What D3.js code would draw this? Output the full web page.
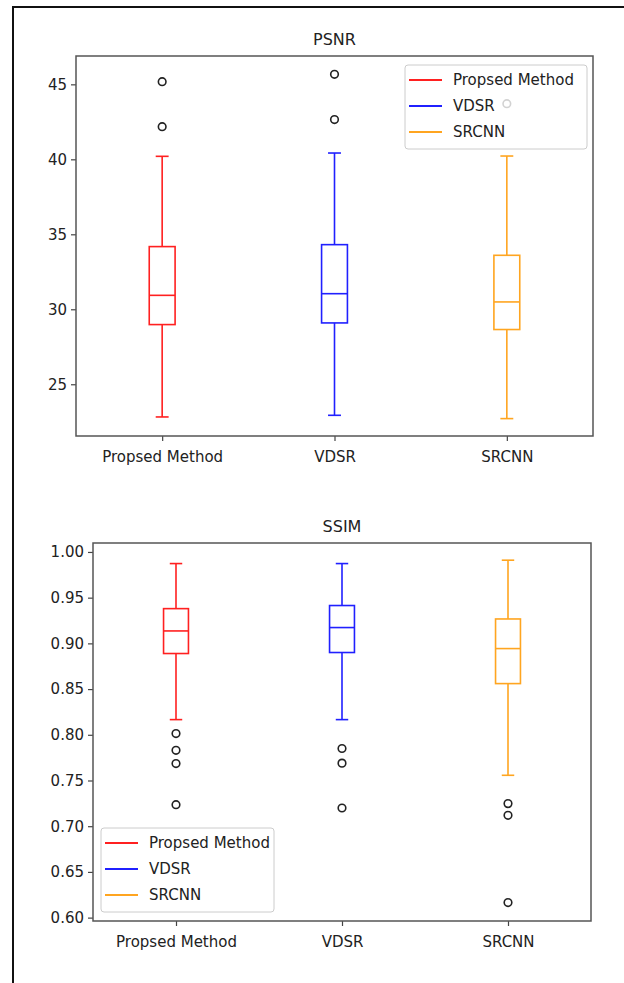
<!DOCTYPE html>
<html>
<head>
<meta charset="utf-8">
<script src="https://cdn.jsdelivr.net/npm/d3@7"></script>
<style>
  html, body { margin: 0; padding: 0; background: #fff; }
  svg { display: block; font-family: "DejaVu Sans", sans-serif; }
</style>
</head>
<body>
<svg id="chart" width="624" height="983"></svg>
<script>
// categories and colors
const methods = ["Propsed Method", "VDSR", "SRCNN"];
const methodColors = ["#ff2020", "#2020ff", "#ffa520"];

// PSNR box stats
const psnrLow    = [22.82, 22.93, 22.71];
const psnrQ1     = [28.98, 29.09, 28.65];
const psnrMedian = [30.93, 31.04, 30.49];
const psnrQ3     = [34.18, 34.31, 33.60];
const psnrHigh   = [40.20, 40.42, 40.22];
const psnrOutliers = [[45.18, 42.18], [45.67, 42.65], [43.71]];
const psnrTicks = [25, 30, 35, 40, 45];

// SSIM box stats
const ssimLow    = [0.8166, 0.8166, 0.7557];
const ssimQ1     = [0.8889, 0.8900, 0.8560];
const ssimMedian = [0.9136, 0.9173, 0.8943];
const ssimQ3     = [0.9380, 0.9414, 0.9267];
const ssimHigh   = [0.9873, 0.9873, 0.9910];
const ssimOutliers = [[0.8013, 0.7830, 0.7685, 0.7236], [0.7850, 0.7690, 0.7199], [0.7247, 0.7119, 0.6165]];
const ssimTicks = [0.60, 0.65, 0.70, 0.75, 0.80, 0.85, 0.90, 0.95, 1.00];

const svg = d3.select("#chart");

// outer frame (only left and top visible)
svg.append("path")
  .attr("d", "M13,983 L13,7 L624,7")
  .attr("fill", "none")
  .attr("stroke", "#111")
  .attr("stroke-width", 2);

function boxPanel(cfg) {
  const { left, top, right, bottom } = cfg.box;
  const g = svg.append("g");

  const x = d3.scalePoint().domain(methods).range([left, right]).padding(0.5);
  const y = d3.scaleLinear().domain(cfg.yDomain).range([bottom, top]);
  const half = x.step() * 0.075;

  const rows = methods.map((m, i) => ({
    name: m, color: methodColors[i],
    low: cfg.low[i], q1: cfg.q1[i], med: cfg.median[i], q3: cfg.q3[i], high: cfg.high[i],
    out: cfg.outliers[i]
  }));

  // title
  g.append("text")
    .attr("x", (left + right) / 2)
    .attr("y", top - 11)
    .attr("text-anchor", "middle")
    .attr("font-size", 16)
    .attr("fill", "#222")
    .text(cfg.title);

  // boxes
  const b = g.selectAll("g.box").data(rows).enter().append("g")
    .attr("class", "box")
    .attr("stroke", d => d.color)
    .attr("stroke-width", 1.6)
    .attr("fill", "none");

  b.append("rect")
    .attr("x", d => x(d.name) - half)
    .attr("y", d => y(d.q3))
    .attr("width", half * 2)
    .attr("height", d => y(d.q1) - y(d.q3));
  b.append("line")
    .attr("x1", d => x(d.name) - half).attr("x2", d => x(d.name) + half)
    .attr("y1", d => y(d.med)).attr("y2", d => y(d.med));
  b.append("line")
    .attr("x1", d => x(d.name)).attr("x2", d => x(d.name))
    .attr("y1", d => y(d.q3)).attr("y2", d => y(d.high));
  b.append("line")
    .attr("x1", d => x(d.name)).attr("x2", d => x(d.name))
    .attr("y1", d => y(d.q1)).attr("y2", d => y(d.low));
  b.append("line")
    .attr("x1", d => x(d.name) - half / 2).attr("x2", d => x(d.name) + half / 2)
    .attr("y1", d => y(d.high)).attr("y2", d => y(d.high));
  b.append("line")
    .attr("x1", d => x(d.name) - half / 2).attr("x2", d => x(d.name) + half / 2)
    .attr("y1", d => y(d.low)).attr("y2", d => y(d.low));

  // outliers
  b.selectAll("circle")
    .data(d => d.out.map(v => ({ v, name: d.name })))
    .enter().append("circle")
    .attr("cx", d => x(d.name))
    .attr("cy", d => y(d.v))
    .attr("r", 3.8)
    .attr("stroke", "#222")
    .attr("stroke-width", 1.6)
    .attr("fill", "none");

  // axes
  const yAxis = g.append("g")
    .attr("transform", `translate(${left},0)`)
    .call(d3.axisLeft(y).tickValues(cfg.ticks).tickFormat(cfg.fmt).tickSize(5).tickPadding(4));
  const xAxis = g.append("g")
    .attr("transform", `translate(0,${bottom})`)
    .call(d3.axisBottom(x).tickSize(5).tickPadding(10));
  [yAxis, xAxis].forEach(a => {
    a.select(".domain").remove();
    a.selectAll("line").attr("stroke", "#444").attr("stroke-width", 1.2);
    a.selectAll("text").attr("font-size", 15).attr("fill", "#222")
      .attr("font-family", "DejaVu Sans, sans-serif");
  });

  // spines
  g.append("rect")
    .attr("x", left).attr("y", top)
    .attr("width", right - left).attr("height", bottom - top)
    .attr("fill", "none")
    .attr("stroke", "#555")
    .attr("stroke-width", 1.5);

  // legend
  const lw = cfg.legend.w, lh = 84;
  const lx = cfg.legend.corner === "tr" ? right - 6 - lw : left + 8;
  const ly = cfg.legend.corner === "tr" ? top + 9 : bottom - 9 - lh;
  const leg = g.append("g").attr("transform", `translate(${lx},${ly})`);
  leg.append("rect")
    .attr("width", lw).attr("height", lh)
    .attr("rx", 3)
    .attr("fill", "#fff").attr("fill-opacity", 0.8)
    .attr("stroke", "#ccc").attr("stroke-width", 1);
  const item = leg.selectAll("g.item").data(rows).enter().append("g")
    .attr("class", "item")
    .attr("transform", (d, i) => `translate(0,${15 + i * 26})`);
  item.append("line")
    .attr("x1", 4).attr("x2", 37)
    .attr("stroke", d => d.color)
    .attr("stroke-width", 2.2);
  item.append("text")
    .attr("x", 48).attr("dy", "0.35em")
    .attr("font-size", 15).attr("fill", "#222")
    .text(d => d.name);
}

boxPanel({
  title: "PSNR",
  box: { left: 76, top: 56, right: 593, bottom: 436 },
  yDomain: [21.55, 46.89],
  low: psnrLow, q1: psnrQ1, median: psnrMedian, q3: psnrQ3, high: psnrHigh,
  outliers: psnrOutliers,
  ticks: psnrTicks, fmt: d3.format("d"),
  legend: { corner: "tr", w: 182 }
});

boxPanel({
  title: "SSIM",
  box: { left: 93, top: 543, right: 591, bottom: 921 },
  yDomain: [0.5963, 1.0098],
  low: ssimLow, q1: ssimQ1, median: ssimMedian, q3: ssimQ3, high: ssimHigh,
  outliers: ssimOutliers,
  ticks: ssimTicks, fmt: d3.format(".2f"),
  legend: { corner: "bl", w: 173 }
});
</script>
</body>
</html>
